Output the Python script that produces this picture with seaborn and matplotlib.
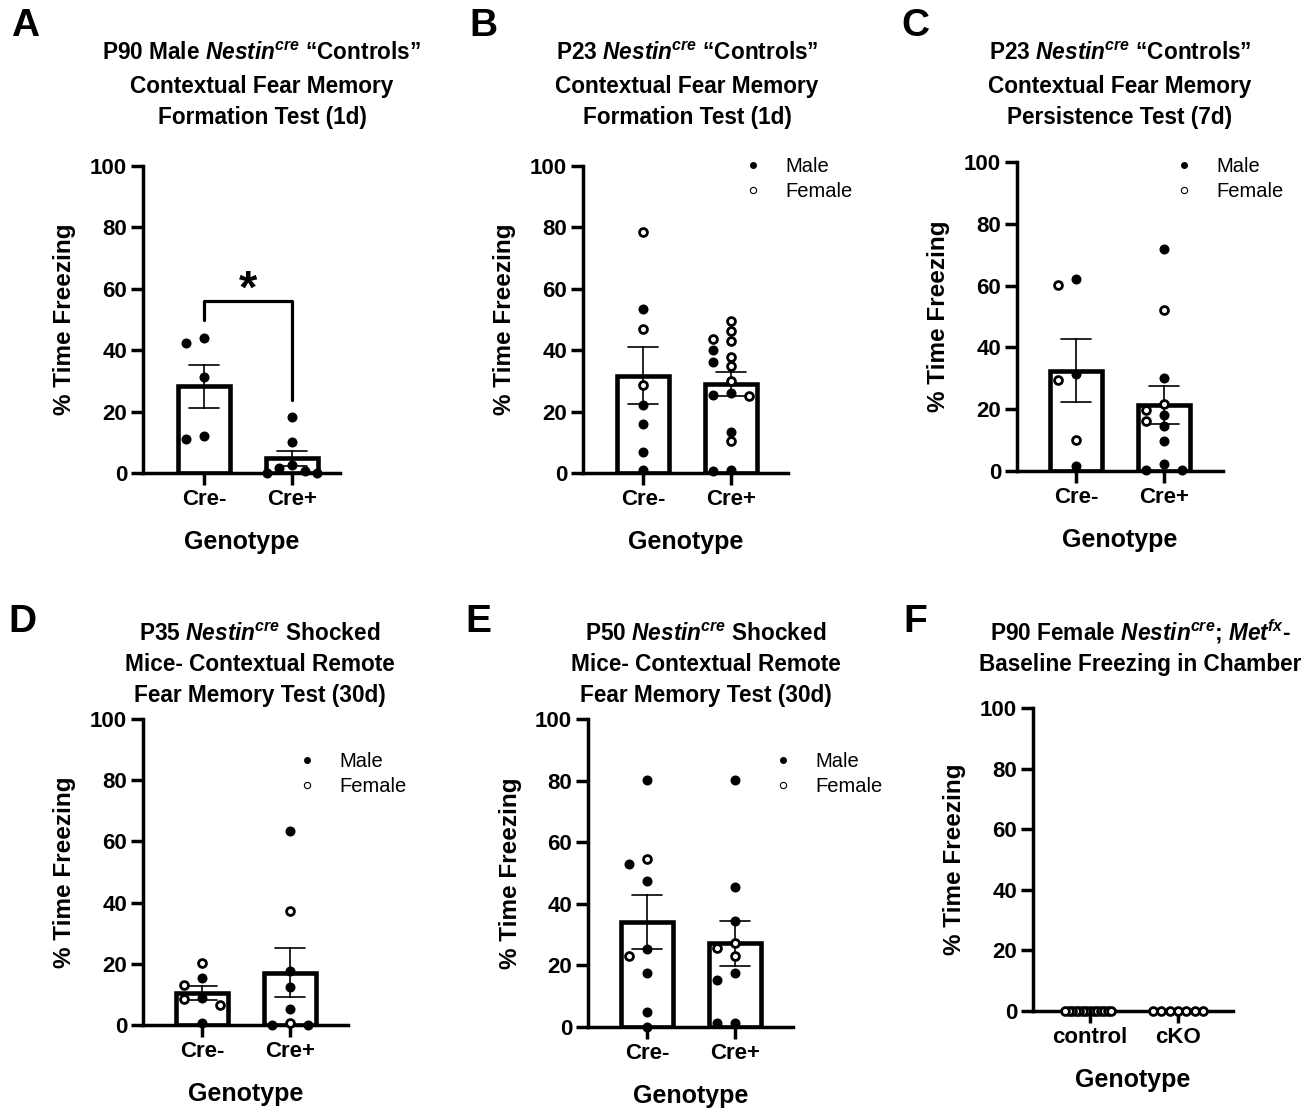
import matplotlib
matplotlib.use("Agg")
import matplotlib.pyplot as plt
from matplotlib.lines import Line2D
import numpy as np
import pandas as pd
import seaborn as sns

# values (% time freezing per mouse)
a_neg_male = [43.9, 42.3, 31.4, 12.2, 11.1]
a_pos_male = [18.1, 10.0, 2.7, 1.6, 0.8, 0.0, 0.0]

b_neg_male = [53.4, 22.0, 16.0, 6.8, 1.1]
b_neg_female = [78.5, 46.9, 28.7]
b_pos_male = [40.1, 36.1, 26.0, 25.5, 13.5, 1.1, 0.5]
b_pos_female = [49.6, 46.4, 43.6, 43.0, 37.9, 34.7, 30.1, 25.2, 10.3]

c_neg_male = [62.2, 31.5, 1.5]
c_neg_female = [60.3, 29.6, 9.9]
c_pos_male = [72.0, 30.2, 18.0, 14.5, 9.6, 2.2, 0.4, 0.4]
c_pos_female = [52.2, 21.8, 19.6, 16.2]

d_neg_male = [15.3, 8.9, 0.8]
d_neg_female = [20.2, 13.1, 8.4, 6.5]
d_pos_male = [63.4, 17.8, 12.5, 5.2, 0.0, 0.0]
d_pos_female = [37.4, 0.5]

e_neg_male = [80.3, 52.8, 47.4, 25.2, 17.6, 4.9, 0.0]
e_neg_female = [54.4, 23.0]
e_pos_male = [80.3, 45.6, 34.4, 17.4, 15.4, 1.3, 1.3]
e_pos_female = [27.4, 25.5, 23.1]

f_control_female = [0.0, 0.0, 0.0, 0.0, 0.0, 0.0, 0.0, 0.0, 0.0, 0.0, 0.0, 0.0, 0.0, 0.0]
f_cko_female = [0.0, 0.0, 0.0, 0.0, 0.0, 0.0, 0.0]

cre_cats = ["Cre-", "Cre+"]
f_cats = ["control", "cKO"]

NESTIN = r"$\mathbfit{Nestin}^{\mathbfit{cre}}$"
titles = {
    "A": ["P90 Male " + NESTIN + " \u201cControls\u201d", "Contextual Fear Memory", "Formation Test (1d)"],
    "B": ["P23 " + NESTIN + " \u201cControls\u201d", "Contextual Fear Memory", "Formation Test (1d)"],
    "C": ["P23 " + NESTIN + " \u201cControls\u201d", "Contextual Fear Memory", "Persistence Test (7d)"],
    "D": ["P35 " + NESTIN + " Shocked", "Mice- Contextual Remote", "Fear Memory Test (30d)"],
    "E": ["P50 " + NESTIN + " Shocked", "Mice- Contextual Remote", "Fear Memory Test (30d)"],
    "F": ["P90 Female " + NESTIN + "; " + r"$\mathbfit{Met}^{\mathbfit{fx}}$" + "-",
          "Baseline Freezing in Chamber"],
}

sns.set_style("ticks")
plt.rcParams["font.family"] = ["Liberation Sans", "DejaVu Sans"]
plt.rcParams["text.color"] = "black"
plt.rcParams["axes.edgecolor"] = "black"
plt.rcParams["xtick.color"] = "black"
plt.rcParams["ytick.color"] = "black"
plt.rcParams["mathtext.fontset"] = "custom"
plt.rcParams["mathtext.rm"] = "Liberation Sans"
plt.rcParams["mathtext.it"] = "Liberation Sans:italic"
plt.rcParams["mathtext.bf"] = "Liberation Sans:bold"
try:
    plt.rcParams["mathtext.bfit"] = "Liberation Sans:bold:italic"
except KeyError:
    pass

W, H = 1313, 1108
fig = plt.figure(figsize=(W / 100, H / 100), dpi=100)

# pixel layout: spine x, right end, y of 0, y of 100, first category x
layout = {
    "A": dict(box=(143, 340, 473, 166), cat0=204, tx=262, ty=(52, 85, 116), letter=(25, 26), legend=None),
    "B": dict(box=(583, 788, 473, 166), cat0=643, tx=687, ty=(52, 85, 116), letter=(483, 26), legend=(0.78, 0.958)),
    "C": dict(box=(1017, 1223, 471, 162), cat0=1076, tx=1120, ty=(52, 85, 116), letter=(915, 26), legend=(0.762, 0.945)),
    "D": dict(box=(143, 348, 1025, 719), cat0=202, tx=260, ty=(633, 663, 694), letter=(22, 622), legend=(0.751, 0.82)),
    "E": dict(box=(588, 793, 1027, 719), cat0=647, tx=706, ty=(633, 663, 694), letter=(478, 622), legend=(0.902, 0.821)),
    "F": dict(box=(1033, 1233, 1011, 708), cat0=1090, tx=1140, ty=(633, 663), letter=(915, 622), legend=None),
}
panel_data = {
    "A": (cre_cats, [a_neg_male, a_pos_male], [[], []]),
    "B": (cre_cats, [b_neg_male, b_pos_male], [b_neg_female, b_pos_female]),
    "C": (cre_cats, [c_neg_male, c_pos_male], [c_neg_female, c_pos_female]),
    "D": (cre_cats, [d_neg_male, d_pos_male], [d_neg_female, d_pos_female]),
    "E": (cre_cats, [e_neg_male, e_pos_male], [e_neg_female, e_pos_female]),
    "F": (f_cats, [[], []], [f_control_female, f_cko_female]),
}
CAT_PX = 88.0


def column_offsets(values, min_gap=3.0, step_max=0.2, half_width=0.285):
    values = np.asarray(values, dtype=float)
    cols = np.zeros(len(values), dtype=int)
    placed = {}
    cands = [0]
    for k in range(1, len(values) + 1):
        cands += [-k, k]
    for i in np.argsort(-values, kind="stable"):
        for c in cands:
            if all(abs(values[i] - w) >= min_gap for w in placed.get(c, [])):
                cols[i] = c
                placed.setdefault(c, []).append(values[i])
                break
    span = max(np.abs(cols).max(), 1) if len(cols) else 1
    return cols * min(step_max, half_width / span)


for key, (cats, males, females) in panel_data.items():
    lay = layout[key]
    left, right, y0, y100 = lay["box"]
    ax = fig.add_axes([left / W, 1 - y0 / H, (right - left) / W, (y0 - y100) / H])

    rows = []
    for cat, m, f in zip(cats, males, females):
        rows += [(cat, "Male", v) for v in m]
        rows += [(cat, "Female", v) for v in f]
    df = pd.DataFrame(rows, columns=["Genotype", "Sex", "Freezing"])

    sns.barplot(data=df, x="Genotype", y="Freezing", order=cats, errorbar="se",
                width=0.6, color="white", edgecolor="black", linewidth=3.3,
                capsize=0.35, err_kws={"color": "black", "linewidth": 1.2}, ax=ax)

    df["x"] = 0.0
    for i, cat in enumerate(cats):
        sel = df["Genotype"] == cat
        df.loc[sel, "x"] = i + column_offsets(df.loc[sel, "Freezing"].values)
    m = df[df["Sex"] == "Male"]
    f = df[df["Sex"] == "Female"]
    ax.scatter(m["x"], m["Freezing"], s=52, c="black", linewidths=0, zorder=5, clip_on=False)
    ax.scatter(f["x"], f["Freezing"], s=32, facecolors="white", edgecolors="black",
               linewidths=2.0, zorder=5, clip_on=False)

    ax.set_ylim(0, 100)
    ax.set_yticks([0, 20, 40, 60, 80, 100])
    ax.set_xlim((left - lay["cat0"]) / CAT_PX, (right - lay["cat0"]) / CAT_PX)
    ax.set_xlabel("")
    ax.set_ylabel("")
    sns.despine(ax=ax)
    for sp in ax.spines.values():
        sp.set_linewidth(2.5)
    ax.tick_params(length=8.5, width=2.5, pad=3, colors="black")
    for lab in ax.get_xticklabels() + ax.get_yticklabels():
        lab.set_fontweight("bold")
        lab.set_fontsize(16)

    if key == "A":
        neg, pos = df.loc[df.Genotype == cats[0], "Freezing"], df.loc[df.Genotype == cats[1], "Freezing"]
        top = max(neg.max(), pos.max()) + 12
        ax.plot([0, 0, 1, 1], [neg.max() + 6, top, top, pos.max() + 5.7],
                color="black", lw=2.3, clip_on=False, zorder=5)
        ax.text(0.5, top + 3.5, "*", ha="center", va="center", fontsize=34, fontweight="bold")

    if lay["legend"] is not None:
        handles = [Line2D([], [], ls="", marker="o", ms=4, color="black"),
                   Line2D([], [], ls="", marker="o", ms=4.5, mfc="white", mec="black", mew=0.8)]
        ax.legend(handles, ["Male", "Female"], loc="center left", bbox_to_anchor=lay["legend"],
                  frameon=False, fontsize=14.5, handlelength=1.0, handletextpad=1.1,
                  labelspacing=0.3, borderpad=0, borderaxespad=0, labelcolor="black")

    for line, ty in zip(titles[key], lay["ty"]):
        fig.text(lay["tx"] / W, 1 - (ty + 8) / H, line, ha="center", va="baseline",
                 fontsize=16.3, fontweight="bold")
    fig.text((left - 78) / W, 1 - ((y0 + y100) / 2) / H, "% Time Freezing", rotation=90,
             ha="center", va="center", fontsize=17.5, fontweight="bold")
    fig.text(((left + right) / 2) / W, 1 - (y0 + 69) / H, "Genotype", ha="center", va="center",
             fontsize=18, fontweight="bold")
    fig.text(lay["letter"][0] / W, 1 - lay["letter"][1] / H, key, ha="center", va="center",
             fontsize=28, fontweight="bold")

fig.savefig("out.png", dpi=100)
